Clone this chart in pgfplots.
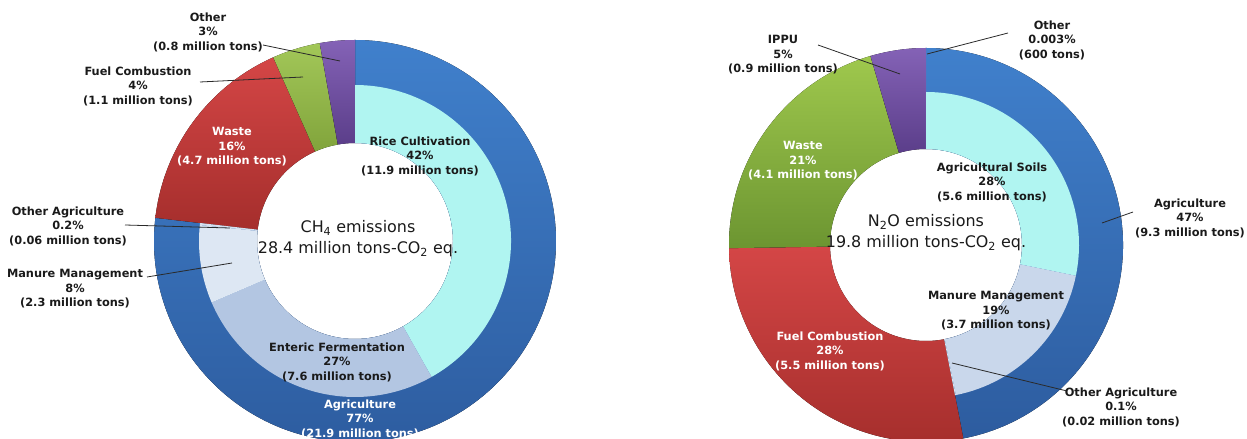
\documentclass[border=0pt]{standalone}
\usepackage{pgfplots}
\usepackage{pgfplotstable}
\pgfplotsset{compat=1.18}
\usepackage{fontspec}
\setmainfont{DejaVu Sans}

\definecolor{agriTop}{HTML}{4080CC}
\definecolor{agriBot}{HTML}{2D5C9F}
\definecolor{cyanC}{HTML}{B0F5F1}
\definecolor{entericC}{HTML}{B3C6E2}
\definecolor{manureL}{HTML}{DDE7F3}
\definecolor{manureR}{HTML}{C9D7EB}
\definecolor{otherAgri}{HTML}{D6E0EE}
\definecolor{redTop}{HTML}{D44646}
\definecolor{redBot}{HTML}{A52E2C}
\definecolor{greenL}{HTML}{98C146}
\definecolor{greenTop}{HTML}{9FC84D}
\definecolor{greenBot}{HTML}{6C9531}
\definecolor{purpTop}{HTML}{8462B6}
\definecolor{purpBot}{HTML}{5B3E8A}
\definecolor{txt}{HTML}{1A1A1A}
\definecolor{leader}{HTML}{2A2A2A}

\tikzset{
  sAgri/.style={top color=agriTop, bottom color=agriBot},
  sCyan/.style={fill=cyanC},
  sEnteric/.style={fill=entericC},
  sManureL/.style={fill=manureL},
  sManureR/.style={fill=manureR},
  sOtherAgri/.style={fill=otherAgri},
  sRed/.style={top color=redTop, bottom color=redBot},
  sGreenL/.style={top color=greenL!90!white, bottom color=greenL!85!black},
  sGreenR/.style={top color=greenTop, bottom color=greenBot},
  sPurple/.style={top color=purpTop, bottom color=purpBot},
  sNone/.style={fill=purpTop},
  lab/.style={font=\fontsize{11.4}{14.5}\selectfont\bfseries, align=center, inner sep=0pt, text=txt},
  wlab/.style={lab, text=white},
  ctr/.style={font=\fontsize{16}{21}\selectfont, align=center, inner sep=0pt, text=txt},
  ldr/.style={draw=leader, line width=0.8bp}
}

% CH4 (million tons CO2 eq.)
\pgfplotstableread{
name        value  style
Agriculture 21.9   sAgri
Waste       4.7    sRed
Fuel        1.1    sGreenL
Other       0.8    sPurple
}\CHouter
\pgfplotstableread{
name        value  style
Rice        11.9   sCyan
Enteric     7.6    sEnteric
Manure      2.3    sManureL
OtherAgri   0.06   sOtherAgri
}\CHinner
% N2O (million tons CO2 eq.)
\pgfplotstableread{
name        value   style
Agriculture 9.3     sAgri
Fuel        5.5     sRed
Waste       4.1     sGreenR
IPPU        0.9     sPurple
Other       0.0006  sNone
}\NOouter
\pgfplotstableread{
name        value  style
Soils       5.6    sCyan
Manure      3.7    sManureR
OtherAgri   0.02   sOtherAgri
}\NOinner

% #1 table, #2 cx, #3 cy, #4 r inner, #5 r outer, #6 start (deg, clockwise from top), #7 span (deg)
\newcommand{\drawring}[7]{%
  \pgfplotstablegetrowsof{#1}\pgfmathtruncatemacro\nrows{\pgfplotsretval-1}%
  \def\ringtotal{0}%
  \pgfplotsforeachungrouped \i in {0,...,\nrows}{%
    \pgfplotstablegetelem{\i}{value}\of{#1}%
    \pgfmathsetmacro\ringtotal{\ringtotal+\pgfplotsretval}}%
  \def\ringcum{0}%
  \pgfplotstablegetelem{0}{value}\of{#1}%
  \pgfmathsetmacro\ringfirstspan{(#7)*\pgfplotsretval/\ringtotal}%
  \pgfplotsforeachungrouped \i in {0,...,\nrows}{%
    \pgfplotstablegetelem{\i}{value}\of{#1}\let\sectval\pgfplotsretval
    \pgfplotstablegetelem{\i}{style}\of{#1}\let\sectsty\pgfplotsretval
    \pgfmathsetmacro\aone{90-(#6)-(#7)*\ringcum/\ringtotal}%
    \pgfmathsetmacro\ringcum{\ringcum+\sectval}%
    \pgfmathsetmacro\atwo{90-(#6)-(#7)*\ringcum/\ringtotal}%
    \edef\ringcmd{\noexpand\fill[\sectsty] ([shift={(\aone:#4bp)}]axis cs:#2,#3)
      arc[start angle=\aone,end angle=\atwo,radius=#4bp]
      -- ([shift={(\atwo:#5bp)}]axis cs:#2,#3)
      arc[start angle=\atwo,end angle=\aone,radius=#5bp] -- cycle;}%
    \ringcmd}%
}

\begin{document}
\begin{tikzpicture}
\path[use as bounding box] (0,0) rectangle (1247bp,439bp);
\begin{axis}[
  anchor=origin, at={(0,0)},
  width=1247bp, height=439bp, scale only axis,
  xmin=0, xmax=1247, ymin=0, ymax=439,
  hide axis, clip=false]

% ---------- CH4 donut ----------
\drawring{\CHouter}{355}{198}{98}{201}{0}{360}
\let\agrispanL\ringfirstspan
\drawring{\CHinner}{355}{198}{98}{156}{0}{\agrispanL}

% ---------- N2O donut ----------
\drawring{\NOouter}{926}{194}{96}{197}{0}{360}
\let\agrispanR\ringfirstspan
\drawring{\NOinner}{926}{194}{96}{153}{0}{\agrispanR}

% leader lines (CH4)
\draw[ldr] (axis cs:263,394) -- (axis cs:340,378);
\draw[ldr] (axis cs:200,357) -- (axis cs:303,362);
\draw[ldr] (axis cs:125,214) -- (axis cs:230,211);
\draw[ldr] (axis cs:147,162) -- (axis cs:232,176);
% leader lines (N2O)
\draw[ldr] (axis cs:818,394) -- (axis cs:900,365);
\draw[ldr] (axis cs:1008,406) -- (axis cs:927,385);
\draw[ldr] (axis cs:1133,227) -- (axis cs:1102,216);
\draw[ldr] (axis cs:1067,48) -- (axis cs:952,76);

% labels (CH4)
\node[lab] at (axis cs:208,407) {Other\\3\%\\(0.8 million tons)};
\node[lab] at (axis cs:138,353) {Fuel Combustion\\4\%\\(1.1 million tons)};
\node[wlab] at (axis cs:232,292) {Waste\\16\%\\(4.7 million tons)};
\node[lab] at (axis cs:68,213) {Other Agriculture\\0.2\%\\(0.06 million tons)};
\node[lab] at (axis cs:75,150) {Manure Management\\8\%\\(2.3 million tons)};
\node[lab] at (axis cs:420,283) {Rice Cultivation\\42\%\\(11.9 million tons)};
\node[lab] at (axis cs:337,77) {Enteric Fermentation\\27\%\\(7.6 million tons)};
\node[wlab] at (axis cs:360,20) {Agriculture\\77\%\\(21.9 million tons)};
\node[ctr] at (axis cs:358,200) {CH\textsubscript{4} emissions\\28.4 million tons-CO\textsubscript{2} eq.};

% labels (N2O)
\node[lab] at (axis cs:783,384) {IPPU\\5\%\\(0.9 million tons)};
\node[lab] at (axis cs:1052,399) {Other\\0.003\%\\(600 tons)};
\node[wlab] at (axis cs:803,278) {Waste\\21\%\\(4.1 million tons)};
\node[lab] at (axis cs:992,257) {Agricultural Soils\\28\%\\(5.6 million tons)};
\node[lab] at (axis cs:1190,221) {Agriculture\\47\%\\(9.3 million tons)};
\node[ctr] at (axis cs:926,206) {N\textsubscript{2}O emissions\\19.8 million tons-CO\textsubscript{2} eq.};
\node[lab] at (axis cs:996,128) {Manure Management\\19\%\\(3.7 million tons)};
\node[wlab] at (axis cs:830,88) {Fuel Combustion\\28\%\\(5.5 million tons)};
\node[lab] at (axis cs:1121,32) {Other Agriculture\\0.1\%\\(0.02 million tons)};
\end{axis}
\end{tikzpicture}
\end{document}
